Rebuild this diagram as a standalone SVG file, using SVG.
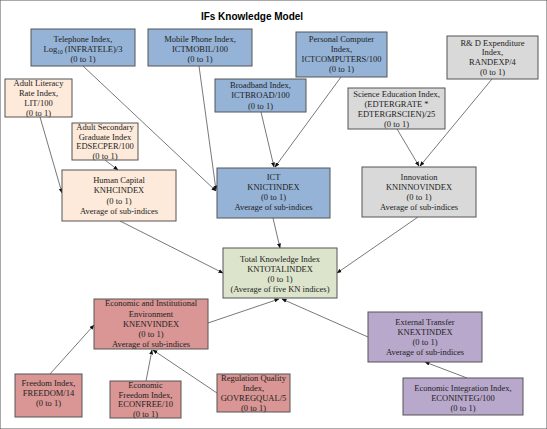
<svg xmlns="http://www.w3.org/2000/svg" width="547" height="429" viewBox="0 0 547 429">
<defs>
<style>
.t{font-family:"Liberation Serif","Times New Roman",serif;font-size:8.5px;fill:#222;text-anchor:middle}
.title{font-family:"Liberation Sans",Arial,sans-serif;font-size:10px;font-weight:bold;fill:#000;text-anchor:middle}
rect{stroke:#555;stroke-width:1}
.blue{fill:#95b3d7}
.peach{fill:#fdeada}
.gray{fill:#d9d9d9}
.green{fill:#dde4cc}
.red{fill:#d99694}
.purple{fill:#b8a8cc}
.c line{stroke:#555;stroke-width:0.8;marker-end:url(#ah)}
</style>
<marker id="ah" viewBox="0 0 10 10" refX="9" refY="5" markerWidth="5" markerHeight="5" orient="auto" markerUnits="userSpaceOnUse">
<path d="M0,1 L10,5 L0,9 z" fill="#111"/>
</marker>
</defs>
<rect width="547" height="429" fill="#fff" stroke="none"/>
<text class="title" x="252" y="20">IFs Knowledge Model</text>

<g class="c" id="connectors">
<line x1="83" y1="66" x2="216" y2="191"/>
<line x1="199" y1="66" x2="216" y2="190"/>
<line x1="261" y1="112" x2="274" y2="167"/>
<line x1="341" y1="77" x2="275" y2="167"/>
<line x1="397" y1="129" x2="419" y2="166"/>
<line x1="492" y1="79" x2="420" y2="166"/>
<line x1="40" y1="117" x2="62" y2="193"/>
<line x1="105" y1="160" x2="118" y2="170"/>
<line x1="120" y1="221" x2="223" y2="273"/>
<line x1="273" y1="218" x2="280" y2="248"/>
<line x1="418" y1="217" x2="337" y2="273"/>
<line x1="208" y1="323" x2="279" y2="299"/>
<line x1="368" y1="337" x2="282" y2="299"/>
<line x1="50" y1="374" x2="94" y2="325"/>
<line x1="146" y1="381" x2="152" y2="350"/>
<line x1="217" y1="393" x2="153" y2="350"/>
<line x1="467" y1="378" x2="425" y2="362"/>
</g>

<g id="telephone"><rect class="blue" x="31" y="29" width="104" height="37"/>
<text class="t" x="83" y="42">Telephone Index,</text>
<text class="t" x="83" y="52">Log<tspan font-size="5.5px" dy="1.5">10</tspan><tspan dy="-1.5"> (INFRATELE)/3</tspan></text>
<text class="t" x="83" y="62">(0 to 1)</text></g>

<g id="mobile"><rect class="blue" x="148" y="29" width="104" height="37"/>
<text class="t" x="200" y="42">Mobile Phone Index,</text>
<text class="t" x="200" y="52">ICTMOBIL/100</text>
<text class="t" x="200" y="62">(0 to 1)</text></g>

<g id="computer"><rect class="blue" x="296" y="32" width="91" height="45"/>
<text class="t" x="341.5" y="42">Personal Computer</text>
<text class="t" x="341.5" y="52">Index,</text>
<text class="t" x="341.5" y="62">ICTCOMPUTERS/100</text>
<text class="t" x="341.5" y="72">(0 to 1)</text></g>

<g id="rnd"><rect class="gray" x="447" y="36" width="91" height="43"/>
<text class="t" x="492.5" y="46">R&amp; D Expenditure</text>
<text class="t" x="492.5" y="55">Index,</text>
<text class="t" x="492.5" y="65">RANDEXP/4</text>
<text class="t" x="492.5" y="75">(0 to 1)</text></g>

<g id="broadband"><rect class="blue" x="215" y="79" width="91" height="33"/>
<text class="t" x="260.5" y="88">Broadband Index,</text>
<text class="t" x="260.5" y="98">ICTBROAD/100</text>
<text class="t" x="260.5" y="109">(0 to 1)</text></g>

<g id="science"><rect class="gray" x="348" y="88" width="97" height="41"/>
<text class="t" x="396.5" y="97">Science Education Index,</text>
<text class="t" x="396.5" y="107">(EDTERGRATE *</text>
<text class="t" x="396.5" y="117">EDTERGRSCIEN)/25</text>
<text class="t" x="396.5" y="127">(0 to 1)</text></g>

<g id="literacy"><rect class="peach" x="5" y="79" width="67" height="38"/>
<text class="t" x="38.5" y="86">Adult Literacy</text>
<text class="t" x="38.5" y="96">Rate Index,</text>
<text class="t" x="38.5" y="106">LIT/100</text>
<text class="t" x="38.5" y="116">(0 to 1)</text></g>

<g id="secondary"><rect class="peach" x="72" y="123" width="66" height="37"/>
<text class="t" x="105" y="130">Adult Secondary</text>
<text class="t" x="105" y="140">Graduate Index</text>
<text class="t" x="105" y="149">EDSECPER/100</text>
<text class="t" x="105" y="159">(0 to 1)</text></g>

<g id="human"><rect class="peach" x="62" y="170" width="114" height="51"/>
<text class="t" x="119" y="183">Human Capital</text>
<text class="t" x="119" y="193">KNHCINDEX</text>
<text class="t" x="119" y="204">(0 to 1)</text>
<text class="t" x="119" y="214">Average of sub-indices</text></g>

<g id="ict"><rect class="blue" x="217" y="168" width="113" height="50"/>
<text class="t" x="273.5" y="180">ICT</text>
<text class="t" x="273.5" y="190">KNICTINDEX</text>
<text class="t" x="273.5" y="200">(0 to 1)</text>
<text class="t" x="273.5" y="210">Average of sub-indices</text></g>

<g id="innovation"><rect class="gray" x="362" y="167" width="114" height="50"/>
<text class="t" x="419" y="180">Innovation</text>
<text class="t" x="419" y="190">KNINNOVINDEX</text>
<text class="t" x="419" y="200">(0 to 1)</text>
<text class="t" x="419" y="210">Average of sub-indices</text></g>

<g id="total"><rect class="green" x="223" y="248" width="114" height="50"/>
<text class="t" x="280" y="262">Total Knowledge Index</text>
<text class="t" x="280" y="272">KNTOTALINDEX</text>
<text class="t" x="280" y="282">(0 to 1)</text>
<text class="t" x="280" y="292">(Average of five KN indices)</text></g>

<g id="envir"><rect class="red" x="94" y="299" width="114" height="50"/>
<text class="t" x="151" y="306">Economic and Institutional</text>
<text class="t" x="151" y="317">Environment</text>
<text class="t" x="151" y="327">KNENVINDEX</text>
<text class="t" x="151" y="337">(0 to 1)</text>
<text class="t" x="151" y="347">Average of sub-indices</text></g>

<g id="external"><rect class="purple" x="368" y="312" width="114" height="50"/>
<text class="t" x="425" y="325">External Transfer</text>
<text class="t" x="425" y="335">KNEXTINDEX</text>
<text class="t" x="425" y="345">(0 to 1)</text>
<text class="t" x="425" y="355">Average of sub-indices</text></g>

<g id="integration"><rect class="purple" x="403" y="378" width="120" height="37"/>
<text class="t" x="463" y="391">Economic Integration  Index,</text>
<text class="t" x="463" y="401">ECONINTEG/100</text>
<text class="t" x="463" y="411">(0 to 1)</text></g>

<g id="freedom"><rect class="red" x="15" y="374" width="67" height="43"/>
<text class="t" x="48.5" y="386">Freedom Index,</text>
<text class="t" x="48.5" y="396">FREEDOM/14</text>
<text class="t" x="48.5" y="406">(0 to 1)</text></g>

<g id="econfree"><rect class="red" x="110" y="381" width="71" height="37"/>
<text class="t" x="145.5" y="388">Economic</text>
<text class="t" x="145.5" y="398">Freedom Index,</text>
<text class="t" x="145.5" y="407">ECONFREE/10</text>
<text class="t" x="145.5" y="417">(0 to 1)</text></g>

<g id="regqual"><rect class="red" x="217" y="374" width="73" height="38"/>
<text class="t" x="253.5" y="381">Regulation Quality</text>
<text class="t" x="253.5" y="391">Index,</text>
<text class="t" x="253.5" y="401">GOVREGQUAL/5</text>
<text class="t" x="253.5" y="411">(0 to 1)</text></g>
</svg>
